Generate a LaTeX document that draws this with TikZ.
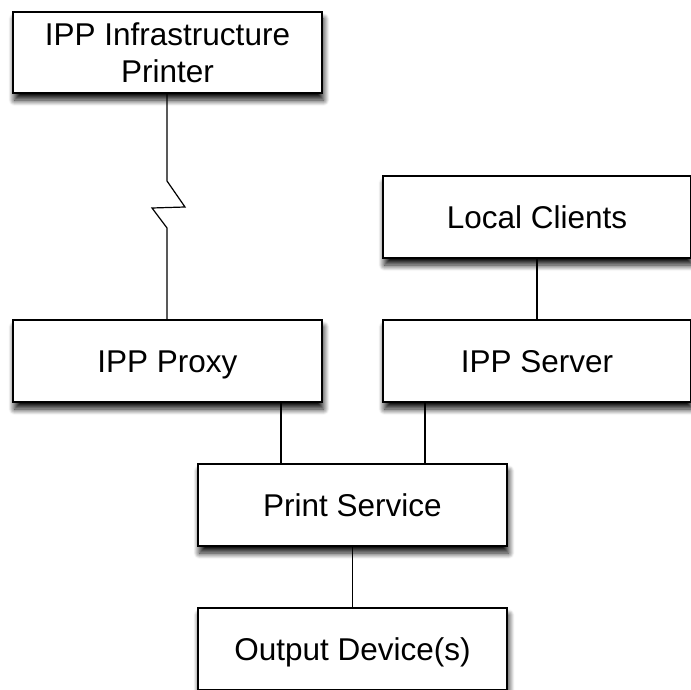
\documentclass[tikz,border=0pt]{standalone}
\usepackage{fontspec}
\setmainfont{Liberation Sans}
\usetikzlibrary{shadows.blur}

\tikzset{
	box/.style={draw, fill=white, line width=1.5pt, inner sep=0pt, align=center,
		font=\fontsize{31.5}{37}\selectfont,
		blur shadow={shadow xshift=1.5pt, shadow yshift=-7pt, shadow blur radius=6pt, shadow blur steps=12, shadow opacity=95}},
	oneline/.style={text height=23pt, text depth=0pt},
	wire/.style={line width=1.2pt}
}

\begin{document}
\begin{tikzpicture}[x=1pt, y=-1pt]
			%%%%% START %%%%%
			\useasboundingbox (0, 0) rectangle (691, 690);
			
			\node[box, minimum width=309pt, minimum height=81pt] (infra) at (167.5, 52.5) {IPP Infrastructure\\Printer};
			\node[box, oneline, minimum width=308pt, minimum height=82pt] (clients) at (537, 217) {Local Clients};
			
			\node[box, oneline, minimum width=309pt, minimum height=82pt] (proxy) at (167.5, 361) {IPP Proxy};
			\node[box, oneline, minimum width=308pt, minimum height=82pt] (server) at (537, 361) {IPP Server};
			
			\node[box, oneline, minimum width=309pt, minimum height=82pt] (service) at (352.5, 505) {Print Service};
			\node[box, oneline, minimum width=309pt, minimum height=82pt] (output) at (352.5, 649) {Output Device(s)};
			
			% break in the link to the remote printer
			\coordinate (z1) at (167, 181);
			\coordinate (z2) at (185, 207);
			\coordinate (z3) at (152, 208);
			\coordinate (z4) at (167, 228);
			\draw[wire, line join=miter] (infra.south -| z1) -- (z1) -- (z2) -- (z3) -- (z4) -- (proxy.north -| z4);
			
			\draw[wire] (clients) -- (server);
			
			\coordinate (lp) at (281, 0);
			\coordinate (ls) at (425, 0);
			\draw[wire] (proxy.south -| lp) -- (service.north -| lp);
			\draw[wire] (server.south -| ls) -- (service.north -| ls);
			
			\draw[wire] (service) -- (output);
			%%%%% END %%%%%
\end{tikzpicture}
\end{document}
